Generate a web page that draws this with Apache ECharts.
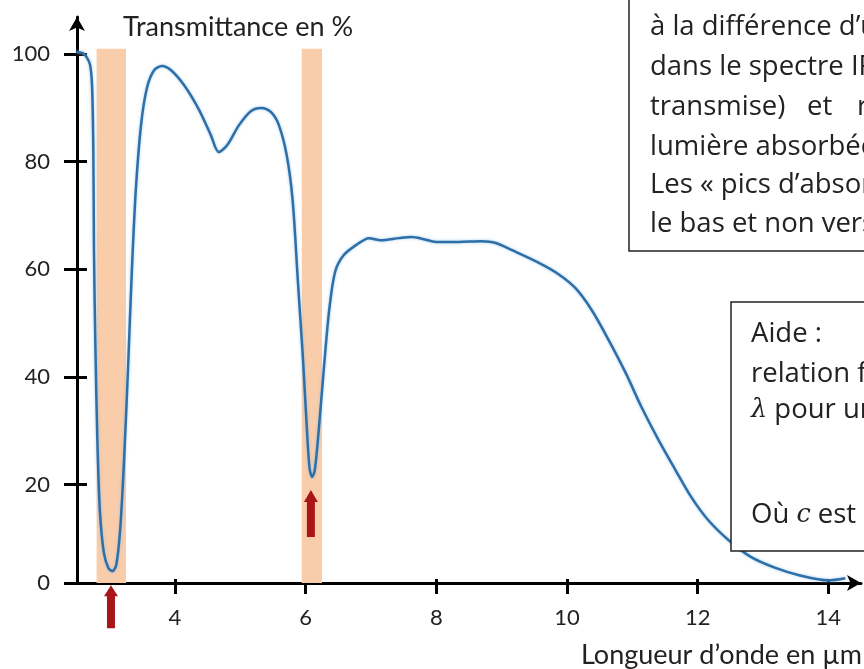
<!DOCTYPE html>
<html>
<head>
<meta charset="utf-8">
<script src="https://cdn.jsdelivr.net/npm/echarts@6/dist/echarts.min.js"></script>
<style>
  html, body { margin: 0; padding: 0; background: #fff; }
  #main { width: 864px; height: 669px; }
</style>
</head>
<body>
<div id="main"></div>
<script>
const waveLength = [2.49, 2.59, 2.65, 2.70, 2.73, 2.75, 2.76, 2.78, 2.81, 2.85, 2.91, 2.98, 3.04, 3.10, 3.16, 3.22, 3.28, 3.34, 3.40, 3.48,
  3.57, 3.68, 3.80, 3.94, 4.14, 4.37, 4.55, 4.67, 4.80, 4.98, 5.16, 5.32, 5.47, 5.59, 5.71, 5.80, 5.88, 5.96, 6.02, 6.06,
  6.10, 6.14, 6.20, 6.28, 6.36, 6.45, 6.58, 6.77, 6.97, 7.15, 7.43, 7.62, 7.81, 7.99, 8.34, 8.69, 8.91, 9.15, 9.57, 9.87,
  10.13, 10.38, 10.64, 10.90, 11.14, 11.40, 11.66, 11.90, 12.16, 12.47, 12.82, 13.19, 13.54, 14.00, 14.26]
const transmittance = [100.4, 100.2, 99.4, 98.0, 94.2, 82.2, 63.6, 46.8, 29.0, 15.2, 7.4, 4.5, 3.9, 5.0, 11.5, 24.5, 41.3, 59.9, 74.7, 86.8,
  93.7, 97.0, 97.8, 97.0, 94.2, 89.6, 84.9, 81.8, 83.1, 86.8, 89.4, 90.0, 89.2, 86.8, 81.2, 72.9, 58.0, 43.1, 30.1, 23.0,
  21.4, 22.7, 30.1, 41.8, 52.4, 59.5, 62.6, 64.5, 65.8, 65.4, 65.8, 66.0, 65.6, 65.1, 65.1, 65.2, 64.9, 63.6, 61.2, 59.1,
  56.5, 52.4, 46.8, 40.7, 34.4, 28.3, 22.7, 17.7, 13.4, 9.7, 6.5, 4.5, 3.2, 2.2, 2.6]

// bandes d'absorption (orange) et flèches rouges
const bandStart = [2.8, 5.94]
const bandEnd = [3.25, 6.25]
const bandTop = 101
const arrowX = [3.02, 6.08]
const arrowY = [-2.7, 14.6]

// graduations
const xTicks = [4, 6, 8, 10, 12, 14]
const yTicks = [0, 20, 40, 60, 80, 100]
const xMin = 2.5
const xMax = 14.5
const yMin = 1.7
const yMax = 106.9

const chart = echarts.init(document.getElementById('main'))

const lineData = waveLength.map((x, i) => [x, transmittance[i]])
// le 0 est dessiné sur l'axe des abscisses
const yTickPos = yTicks.map(v => (v === 0 ? yMin : v))
const bandData = bandStart.map((s, i) => [
  { xAxis: s, yAxis: yMin },
  { xAxis: bandEnd[i], yAxis: bandTop }
])
const arrowSizes = [[14, 43], [14, 47]]
const arrowData = arrowX.map((x, i) => ({ value: [x, arrowY[i]], symbolSize: arrowSizes[i] }))

const font = 'Lato'
const boxFont = 'Open Sans'
const boxSize = 27.5
const textColor = '#222'
const labelStyle = { color: textColor, fontFamily: font, fontSize: 22 }

function txt (text, x, y, size, family, extra) {
  return {
    type: 'text',
    z: 110,
    style: Object.assign({
      text: text,
      x: x,
      y: y,
      fill: textColor,
      font: size + 'px "' + family + '"',
      textVerticalAlign: 'middle',
      rich: {
        m: { fontFamily: 'DejaVu Serif', fontStyle: 'italic', fontSize: size - 2, fill: textColor }
      }
    }, extra || {})
  }
}

const option = {
  animation: false,
  backgroundColor: '#fff',
  grid: { left: 77, right: 3, top: 17, bottom: 86 },
  xAxis: [
    {
      type: 'value',
      min: xMin,
      max: xMax,
      splitLine: { show: false },
      axisLine: {
        onZero: false,
        lineStyle: { color: '#000', width: 3 },
        symbol: ['none', 'arrow'],
        symbolSize: [12, 14]
      },
      axisTick: { customValues: xTicks, length: 11, lineStyle: { color: '#000', width: 3 } },
      axisLabel: Object.assign({ customValues: xTicks, margin: 24 }, labelStyle)
    },
    {
      type: 'value',
      position: 'bottom',
      min: xMin,
      max: xMax,
      splitLine: { show: false },
      axisLine: { show: false, onZero: false },
      axisTick: { customValues: xTicks, inside: true, length: 4, lineStyle: { color: '#000', width: 3 } },
      axisLabel: { show: false }
    }
  ],
  yAxis: [
    {
      type: 'value',
      min: yMin,
      max: yMax,
      splitLine: { show: false },
      axisLine: {
        show: true,
        onZero: false,
        lineStyle: { color: '#000', width: 3 },
        symbol: ['none', 'arrow'],
        symbolSize: [12, 14]
      },
      axisTick: { show: true, customValues: yTickPos, length: 13, lineStyle: { color: '#000', width: 3 } },
      axisLabel: Object.assign({
        customValues: yTickPos,
        margin: 27,
        formatter: v => (v < 10 ? '0' : String(Math.round(v)))
      }, labelStyle)
    },
    {
      type: 'value',
      position: 'left',
      min: yMin,
      max: yMax,
      splitLine: { show: false },
      axisLine: { show: false, onZero: false },
      axisTick: { show: true, customValues: yTickPos, inside: true, length: 10, lineStyle: { color: '#000', width: 3 } },
      axisLabel: { show: false }
    }
  ],
  series: [
    {
      // bandes orange
      type: 'line',
      data: [],
      z: 1,
      markArea: {
        silent: true,
        itemStyle: { color: '#F9CDAA' },
        data: bandData
      }
    },
    {
      type: 'line',
      data: lineData,
      z: 3,
      smooth: 0.3,
      symbol: 'none',
      lineStyle: { color: '#2E6FA7', width: 2.5, shadowBlur: 3, shadowColor: 'rgba(140,190,235,0.8)' }
    },
    {
      type: 'scatter',
      data: arrowData,
      z: 5,
      clip: false,
      symbol: 'path://M7,0 L14,12 L11,12 L11,47 L3,47 L3,12 L0,12 Z',
      symbolKeepAspect: false,
      itemStyle: { color: '#A8161A', opacity: 1 }
    }
  ],
  graphic: [
    txt('Transmittance en %', 123, 27, 27, font),
    txt('Longueur d’onde en µm', 862, 655, 27, font, { textAlign: 'right' }),
    // encadré haut droite
    {
      type: 'rect',
      z: 100,
      shape: { x: 629, y: -5, width: 300, height: 256 },
      style: { fill: '#fff', stroke: '#222', lineWidth: 1.5 }
    },
    txt('à la différence d’une', 650, 27, boxSize, boxFont),
    txt('dans le spectre IR', 650, 67, boxSize, boxFont),
    txt('transmise)', 650, 107, boxSize, boxFont),
    txt('et', 807, 107, boxSize, boxFont),
    txt('re', 857, 107, boxSize, boxFont),
    txt('lumière absorbée', 650, 147, boxSize, boxFont),
    txt('Les « pics d’absorption »', 650, 185, boxSize, boxFont),
    txt('le bas et non vers le haut', 650, 224, boxSize, boxFont),
    // encadré aide
    {
      type: 'rect',
      z: 100,
      shape: { x: 731, y: 302, width: 200, height: 249 },
      style: { fill: '#fff', stroke: '#222', lineWidth: 1.5 }
    },
    txt('Aide :', 751, 334, boxSize, boxFont),
    txt('relation fondamentale', 751, 374, boxSize, boxFont),
    txt('{m|λ} pour une', 751, 410, boxSize, boxFont),
    txt('Où {m|c} est la', 751, 515, boxSize, boxFont)
  ]
}

chart.setOption(option)
</script>
</body>
</html>
